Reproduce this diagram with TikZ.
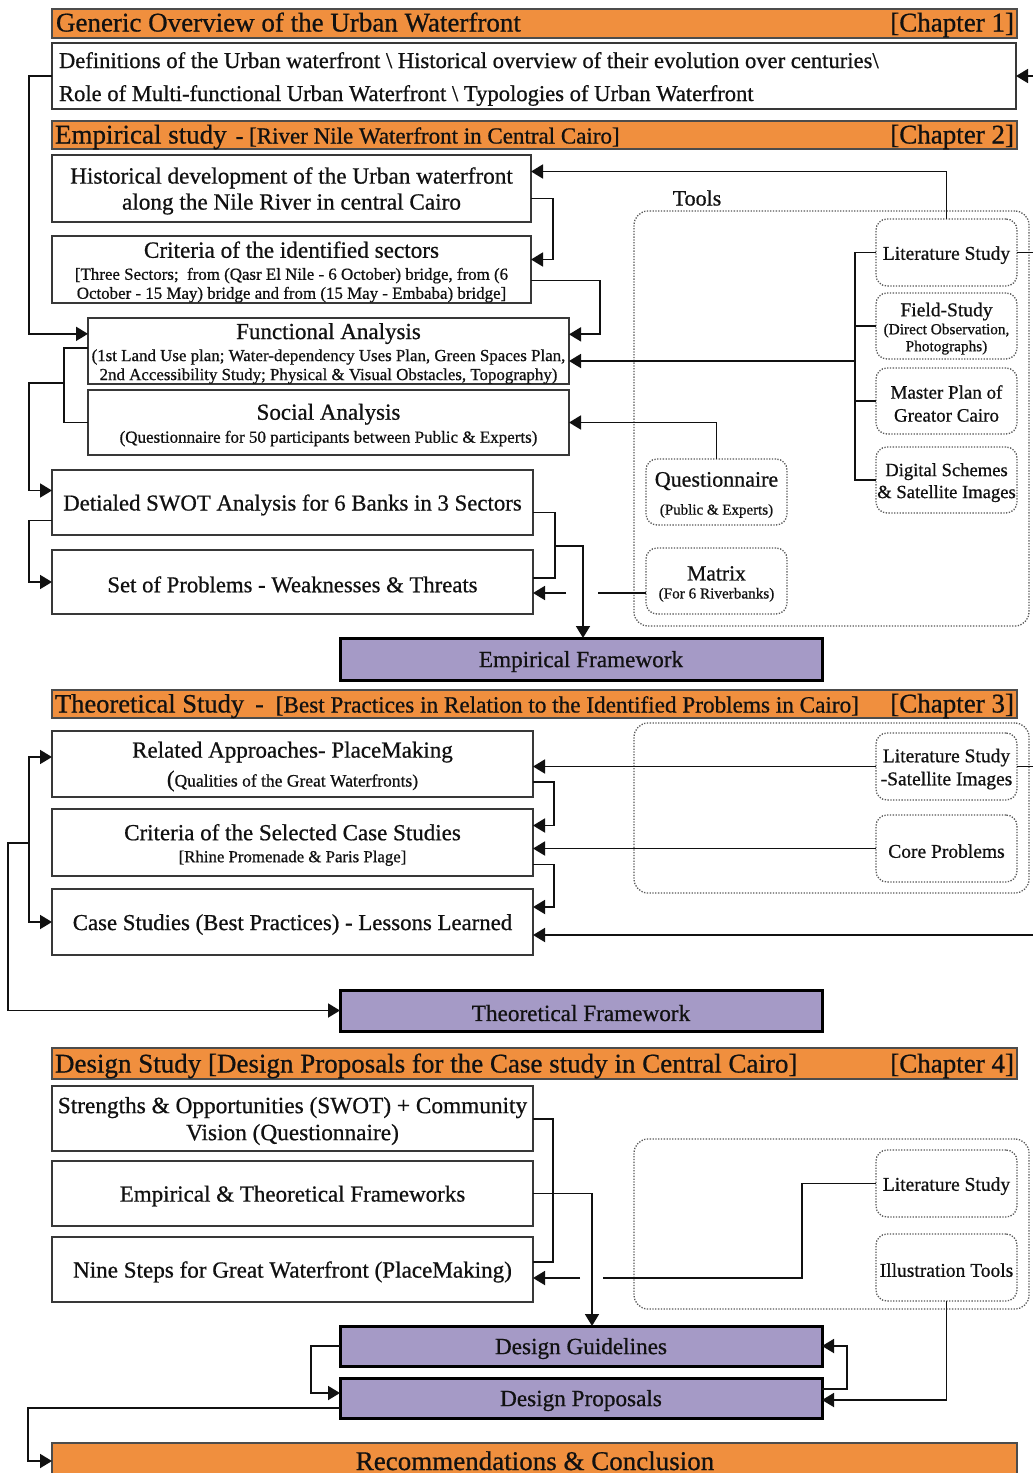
\documentclass[tikz,border=0pt]{standalone}
\usepackage{fontspec}
\setmainfont{Liberation Serif}[FakeBold=0.7]
\usetikzlibrary{arrows.meta}

\definecolor{hdrorange}{HTML}{F08F3E}
\definecolor{fwpurple}{HTML}{A59AC6}
\definecolor{ink}{HTML}{111111}

% strut that lowers the first line of a box a little
\newcommand\tup{\rule{0pt}{\dimexpr\fontcharht\font`(+6pt\relax}}

\tikzset{
  hdr/.style={draw=black!70, line width=1.2pt, fill=hdrorange, anchor=north west,
              inner sep=0pt, outer sep=0pt},
  box/.style={draw=black!78, line width=1.8pt, fill=white, anchor=north west,
              inner sep=0pt, outer sep=0pt, align=center, text=ink,
              execute at begin node=\tup},
  fwbox/.style={draw=black, line width=3pt, fill=fwpurple, anchor=north west,
              inner sep=0pt, outer sep=0pt, align=center, text=ink,
              font=\fontsize{23.2}{27}\selectfont, execute at begin node=\tup},
  toolarea/.style={draw=black!65, dash pattern=on 1.3pt off 1.5pt, line width=1.3pt,
              rounded corners=14pt, anchor=north west, inner sep=0pt, outer sep=0pt},
  toolbox/.style={draw=black!65, dash pattern=on 1.3pt off 1.5pt, line width=1.3pt,
              rounded corners=11pt, anchor=north west, inner sep=0pt, outer sep=0pt,
              align=center, text=ink, minimum width=141pt, minimum height=67pt,
              execute at begin node=\tup},
  label/.style={inner sep=0pt, outer sep=0pt, text=ink},
  conn/.style={draw=ink, line width=1.8pt},
  arr/.style={conn, -{Triangle[length=12pt,width=14pt]}},
}

\begin{document}
\begin{tikzpicture}[x=1pt, y=-1pt]
\useasboundingbox (0,0) rectangle (1033,1473);
\clip (0,0) rectangle (1033,1473);
\fill[white] (0,0) rectangle (1033,1473);

% ---------------- Chapter 1 ----------------
\node[hdr, minimum width=965pt, minimum height=29pt] (ch1hdr) at (52,9) {};
\node[label, anchor=base west, font=\fontsize{27}{31}\selectfont] (ch1title) at (56,31.5)
  {Generic Overview of the Urban Waterfront};
\node[label, anchor=base east, font=\fontsize{27}{31}\selectfont] (ch1tag) at (1014,31.5)
  {[Chapter 1]};

\node[box, minimum width=964pt, minimum height=66pt] (ch1) at (52,43) {};
\node[label, anchor=base west, font=\fontsize{22.6}{26}\selectfont] (ch1l1) at (59,68)
  {Definitions of the Urban waterfront \textbackslash{} Historical overview of their evolution over centuries\textbackslash};
\node[label, anchor=base west, font=\fontsize{22.6}{26}\selectfont] (ch1l2) at (59,101)
  {Role of Multi-functional Urban Waterfront \textbackslash{} Typologies of Urban Waterfront};

% ---------------- Chapter 2 ----------------
\node[hdr, minimum width=965pt, minimum height=28pt] (ch2hdr) at (52,121) {};
\node[label, anchor=base west] (ch2title) at (55,143.5)
  {{\fontsize{27}{31}\selectfont Empirical study}\hspace{9pt}{\fontsize{23}{27}\selectfont - [River Nile Waterfront in Central Cairo]}};
\node[label, anchor=base east, font=\fontsize{27}{31}\selectfont] (ch2tag) at (1014,143.5)
  {[Chapter 2]};

\node[box, minimum width=479pt, minimum height=67pt, font=\fontsize{23.2}{26}\selectfont] (hist) at (52,155)
  {\tup Historical development of the Urban waterfront\\along the Nile River in central Cairo};
\node[box, minimum width=479pt, minimum height=67pt, font=\fontsize{16.9}{19}\selectfont] (crit) at (52,236)
  {{\fontsize{23.2}{27}\selectfont\tup Criteria of the identified sectors}\\[3pt]
   [Three Sectors;\ \ from (Qasr El Nile - 6 October) bridge, from (6\\
   October - 15 May) bridge and from (15 May - Embaba) bridge]};
\node[box, minimum width=481pt, minimum height=65pt, font=\fontsize{16.9}{19}\selectfont] (func) at (88,318)
  {{\fontsize{23}{27}\selectfont\tup Functional Analysis}\\[3pt]
   (1st Land Use plan; Water-dependency Uses Plan, Green Spaces Plan,\\
   2nd Accessibility Study; Physical \& Visual Obstacles, Topography)};
\node[box, minimum width=481pt, minimum height=65pt, font=\fontsize{17}{19}\selectfont] (social) at (88,390)
  {{\fontsize{23}{27}\selectfont\tup Social Analysis}\\[4pt]
   (Questionnaire for 50 participants between Public \& Experts)};
\node[box, minimum width=481pt, minimum height=65pt, font=\fontsize{22.8}{26}\selectfont] (swot) at (52,470)
  {Detialed SWOT Analysis for 6 Banks in 3 Sectors};
\node[box, minimum width=481pt, minimum height=64pt, font=\fontsize{22.7}{26}\selectfont] (probs) at (52,550)
  {Set of Problems - Weaknesses \& Threats};
\node[fwbox, minimum width=482pt, minimum height=42pt] (empfw) at (340,638) {Empirical Framework};

% tools of chapter 2
\node[toolarea, minimum width=395pt, minimum height=415pt] (tools2) at (634,211) {};
\node[label, font=\fontsize{22}{26}\selectfont] (toolslabel) at (697,198) {Tools};
\node[toolbox, font=\fontsize{19.5}{23}\selectfont] (lit2) at (876,219) {Literature Study};
\node[toolbox, minimum height=66pt, font=\fontsize{15.3}{17}\selectfont] (field) at (876,293)
  {{\fontsize{19.5}{23}\selectfont\tup Field-Study}\\[1pt](Direct Observation,\\Photographs)};
\node[toolbox, minimum height=66pt, font=\fontsize{19}{23}\selectfont] (master) at (876,368)
  {\tup Master Plan of\\Greator Cairo};
\node[toolbox, minimum height=66pt, font=\fontsize{18.6}{22}\selectfont] (digital) at (876,447)
  {\tup Digital Schemes\\\& Satellite Images};
\node[toolbox, minimum height=66pt, font=\fontsize{15}{17}\selectfont] (quest) at (646,459)
  {{\fontsize{22}{26}\selectfont\tup Questionnaire}\\[11pt](Public \& Experts)};
\node[toolbox, minimum height=66pt, font=\fontsize{15.2}{18}\selectfont] (matrix) at (646,548)
  {{\fontsize{21.6}{25}\selectfont\tup Matrix}\\[0pt](For 6 Riverbanks)};

% ---------------- Chapter 3 ----------------
\node[hdr, minimum width=965pt, minimum height=28pt] (ch3hdr) at (52,690) {};
\node[label, anchor=base west] (ch3title) at (55,712.5)
  {{\fontsize{26.5}{30}\selectfont Theoretical Study}\hspace{11pt}{\fontsize{26}{30}\selectfont -}\hspace{12pt}{\fontsize{23.2}{27}\selectfont [Best Practices in Relation to the Identified Problems in Cairo]}};
\node[label, anchor=base east, font=\fontsize{27}{31}\selectfont] (ch3tag) at (1014,712.5)
  {[Chapter 3]};

\node[box, minimum width=481pt, minimum height=66pt, font=\fontsize{17.5}{20}\selectfont] (related) at (52,731)
  {{\fontsize{23}{27}\selectfont\tup Related Approaches- PlaceMaking}\\[7pt]
   {\fontsize{23}{27}\selectfont(}Qualities of the Great Waterfronts)};
\node[box, minimum width=481pt, minimum height=67pt, font=\fontsize{16.8}{19}\selectfont] (critcase) at (52,809)
  {{\fontsize{23}{27}\selectfont\tup Criteria of the Selected Case Studies}\\[3pt]
   [Rhine Promenade \& Paris Plage]};
\node[box, minimum width=481pt, minimum height=66pt, font=\fontsize{22.8}{26}\selectfont] (cases) at (52,889)
  {Case Studies (Best Practices) - Lessons Learned};
\node[fwbox, minimum width=482pt, minimum height=41pt] (thfw) at (340,990) {Theoretical Framework};

\node[toolarea, minimum width=395pt, minimum height=170pt] (tools3) at (634,723) {};
\node[toolbox, font=\fontsize{19.5}{23}\selectfont] (lit3) at (876,733)
  {\tup Literature Study\\-Satellite Images};
\node[toolbox, font=\fontsize{19.5}{23}\selectfont] (core) at (876,815) {Core Problems};

% ---------------- Chapter 4 ----------------
\node[hdr, minimum width=965pt, minimum height=31pt] (ch4hdr) at (52,1048) {};
\node[label, anchor=base west, font=\fontsize{27}{31}\selectfont] (ch4title) at (55,1072.5)
  {Design Study [Design Proposals for the Case study in Central Cairo]};
\node[label, anchor=base east, font=\fontsize{27}{31}\selectfont] (ch4tag) at (1014,1072.5)
  {[Chapter 4]};

\node[box, minimum width=481pt, minimum height=65pt, font=\fontsize{23.3}{27}\selectfont] (so) at (52,1086)
  {\tup Strengths \& Opportunities (SWOT) + Community\\Vision (Questionnaire)};
\node[box, minimum width=481pt, minimum height=65pt, font=\fontsize{23}{27}\selectfont] (etf) at (52,1161)
  {Empirical \& Theoretical Frameworks};
\node[box, minimum width=481pt, minimum height=65pt, font=\fontsize{23.1}{27}\selectfont] (nine) at (52,1237)
  {Nine Steps for Great Waterfront (PlaceMaking)};
\node[fwbox, minimum width=482pt, minimum height=40pt] (dg) at (340,1326) {Design Guidelines};
\node[fwbox, minimum width=482pt, minimum height=40pt] (dp) at (340,1378) {Design Proposals};
\node[hdr, minimum width=965pt, minimum height=44pt] (rec) at (52,1443) {};
\node[label, anchor=base, font=\fontsize{27}{31}\selectfont] (rectext) at (535,1470)
  {Recommendations \& Conclusion};

\node[toolarea, minimum width=395pt, minimum height=170pt] (tools4) at (634,1139) {};
\node[toolbox, font=\fontsize{19.5}{23}\selectfont] (lit4) at (876,1150) {Literature Study};
\node[toolbox, font=\fontsize{19.5}{23}\selectfont] (illus) at (876,1234) {Illustration Tools};

% ---------------- connectors ----------------
% literature study feeds chapter 1 and the lessons learned through a bus on the far right
\coordinate (busA) at (1045,252.5);
\coordinate (busB) at (1045,935);
\draw[conn] (lit2.east) -- (busA);
\draw[arr] (busA) |- (ch1.east);
\draw[conn] (busA) -- (busB);
\draw[conn] (lit3.east) -- (lit3.east -| busA);
\draw[arr] (busB) -- (busB -| cases.east);

% chapter 2, right side
\draw[arr] (lit2.north) |- ([yshift=17pt]hist.east);
\draw[arr] ([yshift=-10pt]hist.east) -- ++(22,0) |- ([yshift=10pt]crit.east);
\draw[arr] ([yshift=-11pt]crit.east) -- ++(69,0) |- ([yshift=16.5pt]func.east);
\coordinate (tbus) at (855,361);
\draw[conn] (lit2.west) -- (lit2.west -| tbus) -- (digital.west -| tbus) -- (digital.west);
\draw[conn] (field.west) -- (field.west -| tbus);
\draw[conn] (master.west) -- (master.west -| tbus);
\draw[arr] (tbus) -- (tbus -| func.east);
\draw[arr] (quest.north) |- (social.east);
\coordinate (mx) at (598,593);
\draw[conn] ([yshift=-12pt]matrix.west) -- (mx);
\draw[arr] ([xshift=33pt,yshift=-11pt]probs.east) -- ([yshift=-11pt]probs.east);
\draw[conn] ([yshift=-10pt]swot.east) -- ++(22,0) |- ([yshift=4pt]probs.east);
\coordinate (ej) at (555,546);
\draw[arr] (ej) -| ([xshift=2pt]empfw.north);

% chapter 2, left side
\draw[arr] (ch1.west) -- ++(-23,0) |- ([yshift=17pt]func.west);
\draw[conn] ([yshift=3pt]func.west) -- ++(-24,0) |- (social.west);
\coordinate (fb) at (64,383);
\draw[arr] (fb) -- ++(-35,0) |- ([yshift=12pt]swot.west);
\draw[arr] ([yshift=-18pt]swot.west) -- ++(-23,0) |- (probs.west);

% chapter 3
\draw[arr] (lit3.west) -- (lit3.west -| related.east);
\draw[arr] ([yshift=-18pt]related.east) -- ++(21,0) |- ([yshift=17pt]critcase.east);
\draw[arr] (core.west) -- (core.west -| critcase.east);
\draw[arr] ([yshift=-22pt]critcase.east) -- ++(21,0) |- ([yshift=15pt]cases.east);
\coordinate (lb) at (29,843);
\draw[arr] (lb) |- ([yshift=7pt]related.west);
\draw[arr] (lb) |- (cases.west);
\draw[arr] (lb) -- ++(-21,0) |- (thfw.west);

% chapter 4
\draw[conn] ([yshift=-0.5pt]so.east) -- ++(20,0) |- ([yshift=7.5pt]nine.east);
\draw[arr] (etf.east) -| ([xshift=11pt]dg.north);
\coordinate (l4a) at (802,1278);
\draw[conn] (lit4.west) -| (l4a) -- ++(-199,0);
\draw[arr] ([xshift=47pt,yshift=-8.5pt]nine.east) -- ([yshift=-8.5pt]nine.east);
\draw[arr] (illus.south) |- ([yshift=-2pt]dp.east);
\draw[arr] ([yshift=9pt]dp.east) -- ++(25,0) |- (dg.east);
\draw[arr] (dg.west) -- ++(-29,0) |- ([yshift=5pt]dp.west);
\draw[arr] ([yshift=-10pt]dp.west) -- ++(-312,0) |- ([yshift=4pt]rec.west);
\end{tikzpicture}
\end{document}
